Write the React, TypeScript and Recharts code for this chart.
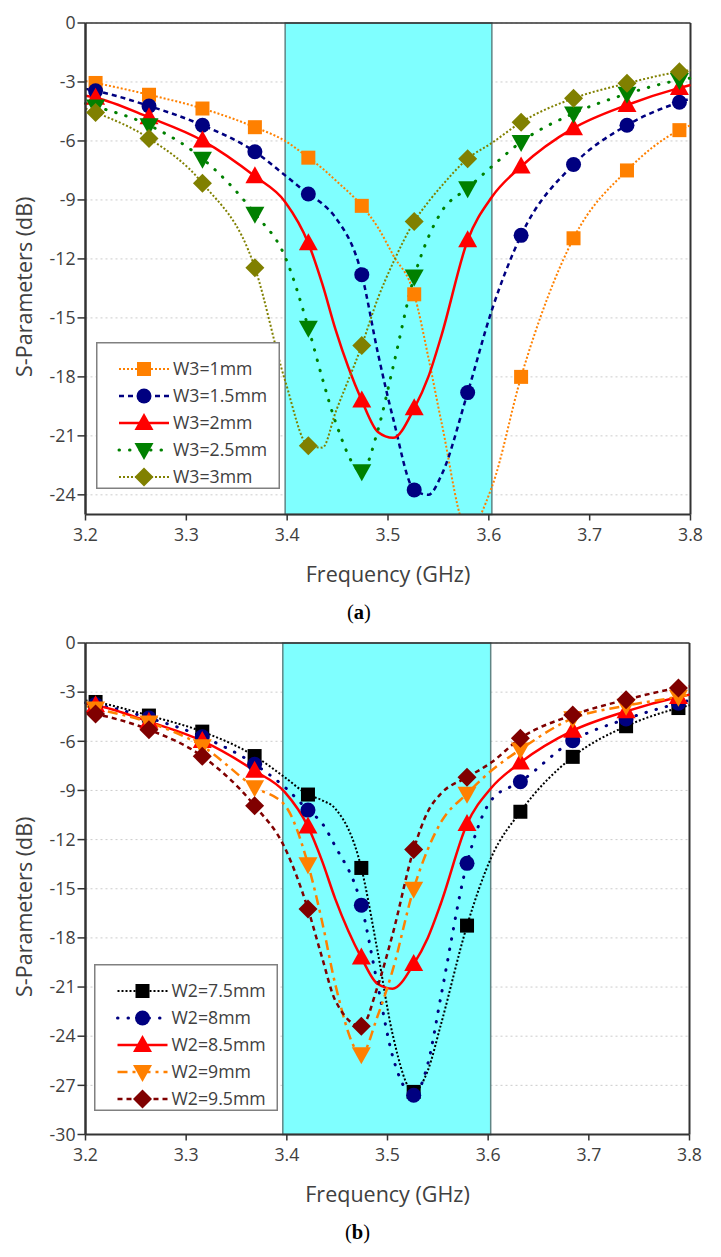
import { CartesianGrid, Label, Line, LineChart, ReferenceArea, ReferenceLine, XAxis, YAxis } from 'recharts';

const FONT = '"Open Sans", Lato, sans-serif';
const TEXT = '#404040';

// the curves are read on this grid, the symbols only sit on markerFreqs
const freqs = [3.2, 3.21, 3.263, 3.316, 3.368, 3.398, 3.421, 3.435, 3.448, 3.474, 3.49, 3.505, 3.526, 3.54, 3.553, 3.579, 3.603, 3.632, 3.684, 3.737, 3.789, 3.8];
const markerFreqs = [3.21, 3.263, 3.316, 3.368, 3.421, 3.474, 3.526, 3.579, 3.632, 3.684, 3.737, 3.789];
const xTicks = [3.2, 3.3, 3.4, 3.5, 3.6, 3.7, 3.8];
const yTicksA = [0, -3, -6, -9, -12, -15, -18, -21, -24];
const yTicksB = [0, -3, -6, -9, -12, -15, -18, -21, -24, -27, -30];

const w3_1 = [-2.95, -3.05, -3.65, -4.35, -5.3, -6.0, -6.85, -7.4, -8.0, -9.3, -10.4, -11.8, -13.8, -17, -20.3, -25.8, -23.6, -18, -10.95, -7.5, -5.45, -5.2];
const w3_15 = [-3.35, -3.45, -4.22, -5.2, -6.55, -7.75, -8.7, -9.2, -9.9, -12.8, -16.8, -20.1, -23.75, -24.0, -23.0, -18.8, -14.6, -10.8, -7.2, -5.2, -4.03, -3.85];
const red_2 = [-3.7, -3.8, -4.8, -5.98, -7.8, -9.1, -11.2, -13.3, -15.6, -19.2, -20.8, -21.1, -19.6, -18.0, -15.9, -11.05, -8.85, -7.3, -5.35, -4.17, -3.3, -3.15];
const w3_25 = [-4.1, -4.25, -5.2, -6.9, -9.7, -11.9, -15.5, -18.1, -20.3, -22.8, -20.7, -17.5, -12.9, -10.9, -9.6, -8.4, -7.3, -6.05, -4.6, -3.6, -2.9, -2.8];
const w3_3 = [-4.35, -4.55, -5.87, -8.15, -12.45, -18.2, -21.5, -21.6, -19.8, -16.4, -14, -12.2, -10.1, -9.1, -8.3, -6.9, -6.1, -5.05, -3.83, -3.07, -2.48, -2.4];

const w2_75 = [-3.5, -3.6, -4.43, -5.41, -6.9, -8.2, -9.25, -9.6, -10.1, -13.73, -18.77, -23.86, -27.4, -26.1, -23.3, -17.25, -13.1, -10.3, -6.95, -5.08, -3.97, -3.8];
const w2_8 = [-3.65, -3.75, -4.58, -5.72, -7.4, -8.8, -10.2, -11, -12.4, -16, -20.8, -25.2, -27.6, -25.7, -21.6, -13.45, -9.6, -8.47, -5.96, -4.64, -3.68, -3.5];
const w2_9 = [-3.85, -4.0, -4.85, -6.3, -8.8, -9.9, -13.5, -17, -20.8, -25.1, -22.8, -20, -15, -12.6, -10.95, -9.2, -7.8, -6.5, -4.6, -3.83, -3.28, -3.15];
const w2_95 = [-4.2, -4.33, -5.29, -6.92, -9.93, -12.5, -16.24, -19.2, -21.8, -23.4, -21, -17.8, -12.6, -10.3, -9.2, -8.2, -7.3, -5.82, -4.4, -3.46, -2.75, -2.65];

type Shape = 'square' | 'circle' | 'up' | 'down' | 'diamond';

interface Series {
  name: string;
  values: number[];
  color: string;
  shape: Shape;
  dash?: string;
  width: number;
  round?: boolean;
}

const seriesA: Series[] = [
  { name: 'W3=1mm', values: w3_1, color: '#FF8000', shape: 'square', dash: '2 2', width: 2 },
  { name: 'W3=1.5mm', values: w3_15, color: '#000080', shape: 'circle', dash: '5 4', width: 2.5 },
  { name: 'W3=2mm', values: red_2, color: '#FF0000', shape: 'up', width: 2.5 },
  { name: 'W3=2.5mm', values: w3_25, color: '#008000', shape: 'down', dash: '0.5 10', width: 3, round: true },
  { name: 'W3=3mm', values: w3_3, color: '#808000', shape: 'diamond', dash: '2 2', width: 2 },
];

const seriesB: Series[] = [
  { name: 'W2=7.5mm', values: w2_75, color: '#000000', shape: 'square', dash: '2 2', width: 2 },
  { name: 'W2=8mm', values: w2_8, color: '#000080', shape: 'circle', dash: '0.5 10', width: 3, round: true },
  { name: 'W2=8.5mm', values: red_2, color: '#FF0000', shape: 'up', width: 2.5 },
  { name: 'W2=9mm', values: w2_9, color: '#FF8000', shape: 'down', dash: '10 5 3 5', width: 2.5 },
  { name: 'W2=9.5mm', values: w2_95, color: '#800000', shape: 'diamond', dash: '5 4', width: 2.5 },
];

function marker(shape: Shape, cx: number, cy: number, color: string) {
  if (shape === 'square') return <rect x={cx - 7} y={cy - 7} width={14} height={14} fill={color} />;
  if (shape === 'circle') return <circle cx={cx} cy={cy} r={7.5} fill={color} />;
  if (shape === 'up') return <polygon points={`${cx},${cy - 10} ${cx + 9.5},${cy + 7} ${cx - 9.5},${cy + 7}`} fill={color} />;
  if (shape === 'down') return <polygon points={`${cx},${cy + 10} ${cx + 9.5},${cy - 7} ${cx - 9.5},${cy - 7}`} fill={color} />;
  return <polygon points={`${cx},${cy - 9.5} ${cx + 9.5},${cy} ${cx},${cy + 9.5} ${cx - 9.5},${cy}`} fill={color} />;
}

function Panel({ series, yTicks, yMin, band, top, width, height, bottom }: {
  series: Series[]; yTicks: number[]; yMin: number; band: [number, number]; top: number; width: number; height: number; bottom: number;
}) {
  const rows = freqs.map((freq, i) => {
    const row: { [key: string]: number } = { freq };
    series.forEach((s, j) => { row[`s${j}`] = s.values[i]; });
    return row;
  });

  return (
    <div style={{ position: 'absolute', left: 0, top }}>
      <LineChart width={721} height={height} data={rows} margin={{ top: 23, right: 721 - width, left: 0, bottom: 0 }}>
        <ReferenceArea x1={band[0]} x2={band[1]} y1={yMin} y2={0} fill="#7FFFFF" fillOpacity={1} stroke="#5F8585" strokeWidth={1.5} />
        <CartesianGrid vertical={false} stroke="#CCCCCC" strokeDasharray="2 3" />
        <XAxis
          dataKey="freq"
          type="number"
          domain={[3.2, 3.8]}
          ticks={xTicks}
          interval={0}
          height={bottom}
          tickSize={6}
          tickMargin={8}
          tickFormatter={(v: number) => v.toFixed(1)}
          tick={{ fill: TEXT, fontSize: 17.7, fontFamily: FONT }}
          axisLine={{ stroke: '#333333', strokeWidth: 2 }}
          tickLine={{ stroke: '#333333', strokeWidth: 1.5 }}
        >
          <Label value="Frequency (GHz)" position="insideTop" offset={52} fill={TEXT} fontSize={21.5} fontFamily={FONT} />
        </XAxis>
        <YAxis
          type="number"
          domain={[yMin, 0]}
          ticks={yTicks}
          interval={0}
          allowDataOverflow
          width={85.5}
          tickSize={8}
          tickMargin={2}
          tick={{ fill: TEXT, fontSize: 17.7, fontFamily: FONT }}
          axisLine={{ stroke: '#333333', strokeWidth: 2.5 }}
          tickLine={{ stroke: '#333333', strokeWidth: 1.5 }}
        >
          <Label value="S-Parameters (dB)" angle={-90} position="insideLeft" offset={24} dy={18} fill={TEXT} fontSize={21.5} fontFamily={FONT} style={{ textAnchor: 'middle' }} />
        </YAxis>
        <ReferenceLine y={0} stroke="#333333" strokeWidth={1.5} />
        <ReferenceLine x={3.8} stroke="#333333" strokeWidth={2} />
        {series.map((s, j) => (
          <Line
            key={s.name}
            dataKey={`s${j}`}
            name={s.name}
            type="monotone"
            stroke={s.color}
            strokeWidth={s.width}
            strokeDasharray={s.dash}
            strokeLinecap={s.round ? 'round' : 'butt'}
            isAnimationActive={false}
            activeDot={false}
            dot={(p: any) => {
              if (!markerFreqs.includes(freqs[p.index]) || s.values[p.index] < yMin) return <g key={p.index} />;
              return <g key={p.index}>{marker(s.shape, p.cx, p.cy, s.color)}</g>;
            }}
          />
        ))}
      </LineChart>
    </div>
  );
}

function SeriesLegend({ series, left, top, width, height, rowYs, markerX }: {
  series: Series[]; left: number; top: number; width: number; height: number; rowYs: number[]; markerX: number;
}) {
  return (
    <svg width={width} height={height} style={{ position: 'absolute', left, top }}>
      <rect x={0.75} y={0.75} width={width - 1.5} height={height - 1.5} fill="#FFFFFF" stroke="#808080" strokeWidth={1.5} />
      {series.map((s, i) => (
        <g key={s.name}>
          <line x1={markerX - 25} x2={markerX + 25} y1={rowYs[i]} y2={rowYs[i]} stroke={s.color} strokeWidth={s.width} strokeDasharray={s.dash} strokeLinecap={s.round ? 'round' : 'butt'} />
          {marker(s.shape, markerX, rowYs[i], s.color)}
          <text x={markerX + 29} y={rowYs[i] + 6} fontSize={17.7} fontFamily={FONT} fill={TEXT}>{s.name}</text>
        </g>
      ))}
    </svg>
  );
}

function Caption({ letter, top, left }: { letter: string; top: number; left: number }) {
  return (
    <div style={{ position: 'absolute', left, top, fontFamily: '"Liberation Serif", serif', fontSize: 20.5, color: '#000', lineHeight: '20px' }}>
      (<b>{letter}</b>)
    </div>
  );
}

export default function App() {
  return (
    <div style={{ position: 'absolute', left: 0, top: 0, width: 721, height: 1257, background: '#FFFFFF', overflow: 'hidden' }}>
      <Panel series={seriesA} yTicks={yTicksA} yMin={-25} band={[3.398, 3.603]} top={0} width={690.5} height={590} bottom={75.5} />
      <SeriesLegend series={seriesA} left={95.5} top={342} width={184} height={147} rowYs={[27, 54, 81, 108, 135]} markerX={48} />
      <Caption letter="a" top={602} left={347} />
      <Panel series={seriesB} yTicks={yTicksB} yMin={-30} band={[3.396, 3.6025]} top={619.5} width={689.5} height={590} bottom={75.5} />
      <SeriesLegend series={seriesB} left={93.5} top={964} width={184} height={147} rowYs={[27, 54, 81, 108, 135]} markerX={48.5} />
      <Caption letter="b" top={1222} left={345} />
    </div>
  );
}
